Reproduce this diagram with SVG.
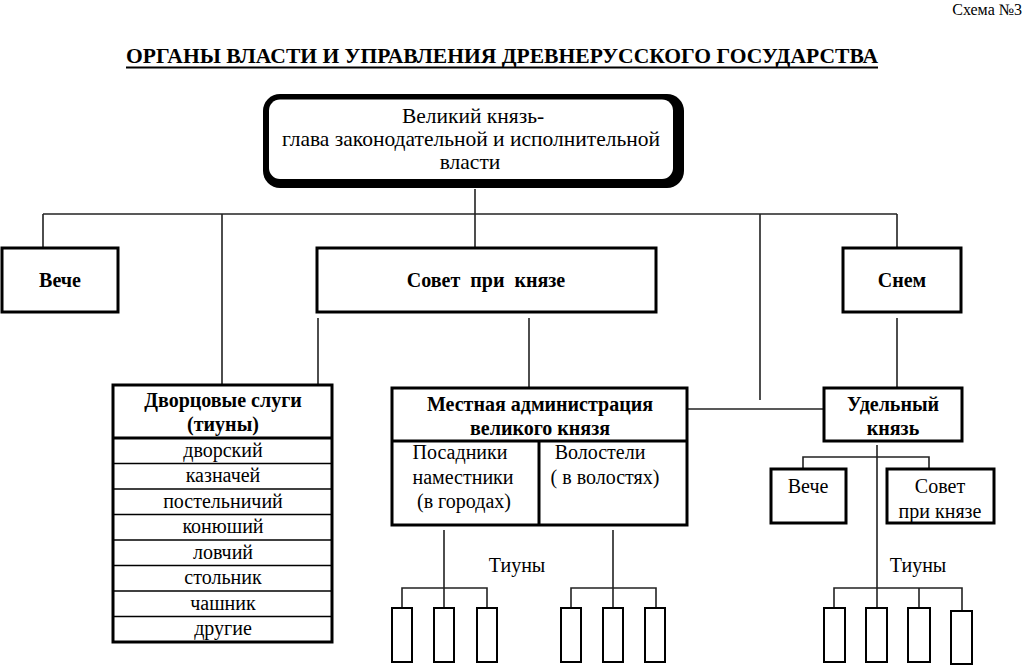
<svg xmlns="http://www.w3.org/2000/svg" width="1024" height="665" viewBox="0 0 1024 665">
<style>
text{font-family:"Liberation Serif","Times New Roman",serif;fill:#000}
.r{font-size:20px}
.b{font-size:20px;font-weight:bold}
.m{text-anchor:middle}
.box{fill:#fff;stroke:#000;stroke-width:3}
.sb{fill:#fff;stroke:#000;stroke-width:2}
.ln{stroke:#222;stroke-width:1.6;fill:none}
.thin{stroke:#000;stroke-width:1.5}
</style>
<rect width="1024" height="665" fill="#fff"/>
<text x="1022" y="15" font-size="16" text-anchor="end">Схема №3</text>
<text x="126" y="63" font-size="22" font-weight="bold" textLength="752" lengthAdjust="spacingAndGlyphs">ОРГАНЫ ВЛАСТИ И УПРАВЛЕНИЯ ДРЕВНЕРУССКОГО ГОСУДАРСТВА</text>
<line x1="126" y1="67.5" x2="878" y2="67.5" stroke="#000" stroke-width="2"/>

<g id="connectors" class="ln">
  <path d="M475 189V247"/>
  <path d="M43 214H897"/>
  <path d="M43 214V248M222 214V384M760 214V400M897 214V248"/>
  <path d="M318 318V384M529 318V388M897 318V388"/>
  <path d="M687 409H824"/>
  <path d="M877 445V588M803 469V457H929V469"/>
  <path d="M444 530V588M402 608V588H487V608M444 588V608"/>
  <path d="M613 530V588M571 608V588H656V608M613 588V608"/>
  <path d="M834 608V588H962V611M877 588V608M919 588V608"/>
</g>

<g id="velikiy-knyaz">
  <rect x="263" y="94" width="421" height="94" rx="17" fill="#000"/>
  <rect x="269" y="99.5" width="404" height="79.5" rx="11" fill="#fff"/>
  <text class="m" x="473" y="123" font-size="21.5">Великий князь-</text>
  <text class="m" x="471" y="146" font-size="21.5">глава законодательной и исполнительной</text>
  <text class="m" x="470" y="169" font-size="21.5">власти</text>
</g>

<g id="veche">
  <rect class="box" x="2" y="248" width="116" height="64"/>
  <text class="b m" x="60" y="287">Вече</text>
</g>

<g id="sovet">
  <rect class="box" x="317" y="248" width="339" height="64"/>
  <text class="b m" x="486" y="287" xml:space="preserve">Совет  при  князе</text>
</g>

<g id="snem">
  <rect class="box" x="843" y="248" width="118" height="64"/>
  <text class="b m" x="902" y="287">Снем</text>
</g>

<g id="dvortsovye-slugi">
  <rect class="box" x="113" y="385" width="219" height="257"/>
  <line x1="113" y1="438" x2="332" y2="438" stroke="#000" stroke-width="3"/>
  <g class="thin">
    <line x1="113" y1="463.5" x2="332" y2="463.5"/>
    <line x1="113" y1="489" x2="332" y2="489"/>
    <line x1="113" y1="514.5" x2="332" y2="514.5"/>
    <line x1="113" y1="540" x2="332" y2="540"/>
    <line x1="113" y1="565.5" x2="332" y2="565.5"/>
    <line x1="113" y1="591" x2="332" y2="591"/>
    <line x1="113" y1="616.5" x2="332" y2="616.5"/>
  </g>
  <text class="b m" x="223" y="407">Дворцовые слуги</text>
  <text class="b m" x="223" y="431">(тиуны)</text>
  <text class="r m" x="223" y="457">дворский</text>
  <text class="r m" x="223" y="482">казначей</text>
  <text class="r m" x="223" y="508">постельничий</text>
  <text class="r m" x="223" y="533">конюший</text>
  <text class="r m" x="223" y="559">ловчий</text>
  <text class="r m" x="223" y="584">стольник</text>
  <text class="r m" x="223" y="610">чашник</text>
  <text class="r m" x="223" y="635">другие</text>
</g>

<g id="mestnaya-administratsiya">
  <rect class="box" x="392" y="388" width="295" height="137"/>
  <line x1="392" y1="441" x2="687" y2="441" stroke="#000" stroke-width="3"/>
  <line x1="539" y1="441" x2="539" y2="525" stroke="#000" stroke-width="3"/>
  <text class="b m" x="540" y="411">Местная администрация</text>
  <text class="b m" x="540" y="435">великого князя</text>
  <text class="r m" x="460" y="459">Посадники</text>
  <text class="r m" x="463" y="484">наместники</text>
  <text class="r m" x="464" y="508">(в городах)</text>
  <text class="r m" x="600" y="459">Волостели</text>
  <text class="r m" x="605" y="484">( в волостях)</text>
</g>

<g id="udelnyy-knyaz">
  <rect class="box" x="824" y="388" width="138" height="53"/>
  <text class="b m" x="893" y="411">Удельный</text>
  <text class="b m" x="893" y="435">князь</text>
</g>

<g id="veche-small">
  <rect class="box" x="771" y="469" width="75" height="54"/>
  <text class="r m" x="808" y="493">Вече</text>
</g>

<g id="sovet-small">
  <rect class="box" x="887" y="469" width="107" height="54"/>
  <text class="r m" x="940" y="493">Совет</text>
  <text class="r m" x="940" y="518">при князе</text>
</g>

<g id="tiuny-label-1"><text class="r m" x="517" y="572">Тиуны</text></g>
<g id="tiuny-label-2"><text class="r m" x="918" y="572">Тиуны</text></g>

<g id="tiuny-boxes">
  <rect class="sb" x="392" y="608" width="20" height="54"/>
  <rect class="sb" x="434" y="608" width="20" height="54"/>
  <rect class="sb" x="477" y="608" width="20" height="54"/>
  <rect class="sb" x="561" y="608" width="20" height="54"/>
  <rect class="sb" x="603" y="608" width="20" height="54"/>
  <rect class="sb" x="645" y="608" width="20" height="54"/>
  <rect class="sb" x="824" y="608" width="21" height="54"/>
  <rect class="sb" x="866" y="608" width="21" height="54"/>
  <rect class="sb" x="908" y="608" width="22" height="54"/>
  <rect class="sb" x="951" y="611" width="21" height="53"/>
</g>
</svg>
